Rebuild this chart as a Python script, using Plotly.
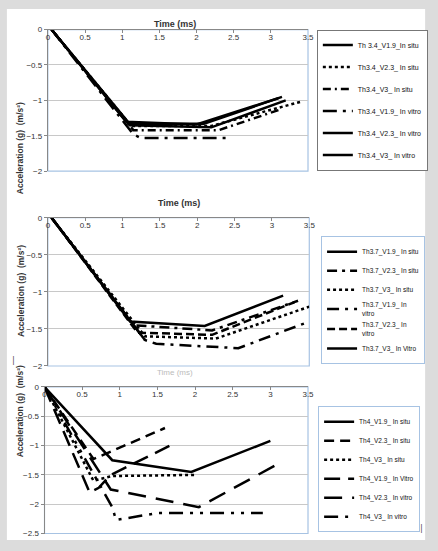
import plotly.graph_objects as go

# Panel 1 - Th3.4
th34_names = ["Th 3.4_V1.9_In situ", "Th3.4_V2.3_ In situ", "Th3.4_V3_ In situ",
              "Th3.4_V1.9_ In vitro", "Th3.4_V2.3_ In vitro", "Th3.4_V3_ In vitro"]
th34_x = [[0.05, 1.1, 2.1, 3.15], [0.05, 1.12, 2.2, 3.4], [0.05, 1.15, 2.3, 3.15],
          [0.05, 1.15, 1.25, 2.4], [0.05, 1.1, 2.2, 3.2], [0.05, 1.05, 2.0, 3.1]]
th34_y = [[0, -1.33, -1.33, -0.95], [0, -1.36, -1.36, -1.02], [0, -1.42, -1.42, -1.12],
          [0, -1.48, -1.53, -1.53], [0, -1.35, -1.38, -1.0], [0, -1.3, -1.34, -0.97]]

# Panel 2 - Th3.7
th37_names = ["Th3.7_V1.9_ In situ", "Th3.7_V2.3_ In situ", "Th3.7_V3_ In situ",
              "Th3.7_V1.9_ In<br>vitro", "Th3.7_V2.3_ In<br>vitro", "Th3.7_V3_ In Vitro"]
th37_x = [[0.05, 1.1, 2.1, 3.15], [0.05, 1.15, 2.2, 3.35], [0.05, 1.3, 2.25, 3.5],
          [0.05, 1.3, 1.45, 2.55, 3.5], [0.05, 1.2, 2.2, 3.3], [0.05, 1.3]]
th37_y = [[0, -1.4, -1.46, -1.05], [0, -1.45, -1.52, -1.12], [0, -1.6, -1.63, -1.2],
          [0, -1.65, -1.7, -1.76, -1.4], [0, -1.55, -1.58, -1.14], [0, -1.65]]

# Panel 3 - Th4
th4_names = ["Th4_V1.9_ In situ", "Th4_V2.3_ In situ", "Th4_V3_ In situ",
             "Th4_V1.9_ In Vitro", "Th4_V2.3_ In vitro", "Th4_V3_ In vitro"]
th4_x = [[0, 0.9, 1.95, 3.0], [0, 0.65, 1.6], [0, 0.65, 0.9, 2.0],
         [0, 0.6, 0.72, 0.88, 1.7], [0, 0.88, 2.05, 3.12], [0, 0.9, 0.95, 1.5, 2.9]]
th4_y = [[0, -1.25, -1.45, -0.92], [0, -1.23, -0.7], [0, -1.6, -1.52, -1.5],
         [0, -1.8, -1.72, -1.5, -0.98], [0, -1.75, -2.05, -1.3], [0, -2.05, -2.27, -2.15, -2.15]]

dash1 = ["solid", "dot", "8px,4px,2px,4px", "14px,6px,3px,6px", "solid", "solid"]
dash2 = ["solid", "10px,5px,3px,5px", "dot", "12px,6px,3px,6px", "8px,4px", "solid"]
dash3 = ["solid", "10px,6px", "dot", "16px,8px", "18px,10px", "14px,7px,3px,7px,3px,7px"]

W, H = 438, 551
font = "Liberation Sans Narrow, Liberation Sans, Arial, sans-serif"

fig = go.Figure()
panels = [
    (th34_names, th34_x, th34_y, dash1, "x", "y", "legend"),
    (th37_names, th37_x, th37_y, dash2, "x2", "y2", "legend2"),
    (th4_names, th4_x, th4_y, dash3, "x3", "y3", "legend3"),
]
for names, xs, ys, dashes, xa, ya, lg in panels:
    for n, xv, yv, d in zip(names, xs, ys, dashes):
        fig.add_trace(go.Scatter(x=xv, y=yv, mode="lines", name=n, xaxis=xa, yaxis=ya,
                                 legend=lg, legendgroup=n,
                                 line=dict(color="black", width=2.5, dash=d)))


def px_x(p):
    return p / W


def px_y(p):
    return 1 - p / H


def xax(dom, anchor):
    return dict(domain=dom, range=[0, 3.5], dtick=0.5, side="top", anchor=anchor,
                ticklabelposition="inside", ticklabeloverflow="allow",
                ticks="inside", ticklen=3, tickcolor="#888",
                showline=True, linecolor="#888", linewidth=1, showgrid=False,
                zeroline=False, tickfont=dict(size=8, color="#333", family=font))


def yax(dom, lo, anchor):
    return dict(domain=dom, range=[lo, 0], dtick=0.5, anchor=anchor, showline=True,
                linecolor="#888", linewidth=1, ticks="outside", ticklen=3, tickcolor="#888",
                ticklabeloverflow="allow", gridcolor="#c8c8c8", gridwidth=1, zeroline=False,
                tickfont=dict(size=8, color="#333", family=font))


def leg(x, y, border, gap, size):
    return dict(x=px_x(x), y=px_y(y), xanchor="left", yanchor="top", bgcolor="white",
                bordercolor=border, borderwidth=1, tracegroupgap=gap, itemwidth=30,
                font=dict(size=size, color="#111", family=font))


shapes = [dict(type="rect", xref="paper", yref="paper", x0=px_x(5), x1=px_x(431),
               y0=px_y(545), y1=px_y(5), fillcolor="white", line=dict(width=0), layer="below")]
for xr, yr in [("x", "y"), ("x2", "y2"), ("x3", "y3")]:
    shapes.append(dict(type="rect", xref=xr + " domain", yref=yr + " domain", x0=0, x1=1,
                       y0=0, y1=1, line=dict(color="#a7c3e3", width=1.2), layer="below"))

annotations = []
for yc, xc in [(13, 176), (202, 180)]:
    annotations.append(dict(text="<b>Time (ms)</b>", x=px_x(xc), y=px_y(yc), xref="paper",
                            yref="paper", showarrow=False, font=dict(size=9, color="#333", family=font)))
annotations.append(dict(text="Time (ms)", x=px_x(176), y=px_y(381), xref="paper", yref="paper",
                        showarrow=False, font=dict(size=8, color="#bbb", family=font)))
for yc in [98, 292, 463]:
    annotations.append(dict(text="<b>Acceleration (g)  (m/s²)</b>", x=px_x(12), y=px_y(yc),
                            xref="paper", yref="paper", textangle=-90, showarrow=False,
                            font=dict(size=8.5, color="#333", family=font)))
annotations.append(dict(text="|", x=px_x(7), y=px_y(370), xref="paper", yref="paper",
                        showarrow=False, font=dict(size=9, color="#333")))
annotations.append(dict(text="|", x=px_x(432), y=px_y(541), xref="paper", yref="paper",
                        showarrow=False, font=dict(size=9, color="#333")))

fig.update_layout(
    width=W, height=H, margin=dict(l=0, r=0, t=0, b=0),
    paper_bgcolor="#dcdcdc", plot_bgcolor="white",
    xaxis=xax([px_x(46.7), px_x(311.7)], "y"),
    xaxis2=xax([px_x(46.7), px_x(313)], "y2"),
    xaxis3=xax([px_x(43.3), px_x(311.7)], "y3"),
    yaxis=yax([px_y(170), px_y(26)], -2, "x"),
    yaxis2=yax([px_y(368), px_y(217.3)], -2, "x2"),
    yaxis3=yax([px_y(538.3), px_y(389.3)], -2.5, "x3"),
    legend=leg(320.7, 26, "#777", 3, 7), legend2=leg(325, 236, "#a7c3e3", 0, 6.5),
    legend3=leg(322, 409, "#a7c3e3", 0, 6.5),
    shapes=shapes, annotations=annotations,
)

fig.write_html("out.html", config={"displayModeBar": False},
               post_script="document.body.style.margin='0';"
               "document.documentElement.style.overflow='hidden';")
